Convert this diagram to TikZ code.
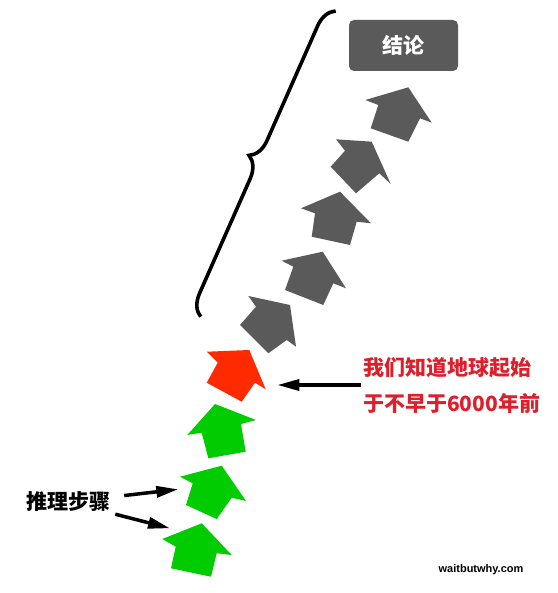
\documentclass[tikz,border=0pt]{standalone}
\usepackage{fontspec}
\newfontfamily\cjk{Noto Sans CJK SC}
\newfontfamily\credfont{Liberation Sans}
\usetikzlibrary{arrows.meta, decorations.pathreplacing}
\definecolor{stepgreen}{RGB}{0,204,0}
\definecolor{stepred}{RGB}{255,42,0}
\definecolor{stepgray}{RGB}{90,90,90}
\definecolor{claimred}{RGB}{222,30,42}

\begin{document}
\begin{tikzpicture}[
  x=1pt, y=-1pt,
  greenstep/.style={fill=stepgreen},
  redstep/.style={fill=stepred},
  graystep/.style={fill=stepgray},
  pointer/.style={-{Triangle[length=22pt, width=11pt]}, line width=3.5pt},
  cjktext/.style={font=\cjk\bfseries\fontsize{21}{36}\selectfont, inner sep=2pt}
]
\useasboundingbox (0,0) rectangle (557,593);

\fill[greenstep] (187.3,435) -- (215,404) -- (256,420) -- (241,424) -- (245.7,451.7) -- (208.3,458.3) -- (201.7,432.7) -- cycle;
\fill[greenstep] (180,476.7) -- (221.7,465.7) -- (246,501) -- (231.7,497.7) -- (216.7,519) -- (186,505) -- (192.7,483.3) -- cycle;
\fill[greenstep] (162.3,539) -- (201.7,523.3) -- (231.7,555) -- (216.7,553.3) -- (211,576.7) -- (171,568.3) -- (175.7,546.7) -- cycle;
\fill[redstep] (206.7,351.7) -- (249.3,350) -- (265.7,389.3) -- (255,382.7) -- (241.7,401.7) -- (206.7,382.7) -- (217.7,362.7) -- cycle;
\fill[graystep] (248.3,296) -- (290,305) -- (296,346.7) -- (286.7,340) -- (268.3,353.3) -- (240,325) -- (256,306.7) -- cycle;
\fill[graystep] (281.7,260.7) -- (322.7,251.7) -- (346,288.3) -- (333.3,283.3) -- (323.3,305) -- (285,290) -- (293.3,266.7) -- cycle;
\fill[graystep] (301,208.3) -- (340,191.7) -- (371,223.3) -- (356.7,221.7) -- (350,245) -- (311.7,236.7) -- (315,213.3) -- cycle;
\fill[graystep] (336,139.3) -- (371.7,141.7) -- (390.7,184) -- (379.3,173.3) -- (356,193.3) -- (330.7,166.7) -- (345,150.7) -- cycle;
\fill[graystep] (365.3,100) -- (408.3,87.3) -- (431.7,122.7) -- (420,118.3) -- (408.3,141.7) -- (370.7,128.3) -- (378.3,105) -- cycle;

\coordinate (redtip) at (277.3,385);
\coordinate (stepA) at (178.3,489.3);
\coordinate (stepB) at (170,528.3);
\coordinate (braceend) at (200.7,316.7);
\coordinate (bracetop) at (335.7,11);

\node[fill=stepgray, rounded corners=5pt, minimum width=109pt, minimum height=51pt,
  text=white, font=\cjk\bfseries\fontsize{21}{24}\selectfont] (title) at (403.5,45.5) {结论};
\node[cjktext, text=claimred, align=left, anchor=west] (claim) at (361,385) {我们知道地球起始\\于不早于6000年前};
\node[cjktext, inner xsep=14pt] (steps) at (68,502) {推理步骤};
\node[font=\credfont\bfseries\fontsize{11}{13}\selectfont] (credit) at (481,570) {waitbutwhy.com};

\draw[line width=3.6pt, decorate, decoration={brace, amplitude=21pt}] (braceend) -- (bracetop);
\draw[pointer] (claim) -- (redtip);
\draw[pointer] (steps) -- (stepA);
\draw[pointer] (steps) -- (stepB);
\end{tikzpicture}
\end{document}
